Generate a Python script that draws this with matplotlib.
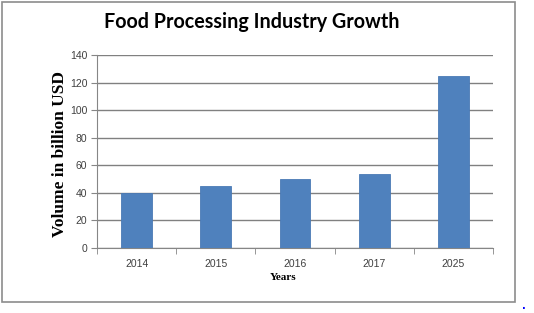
import matplotlib
matplotlib.use("Agg")
import matplotlib.pyplot as plt
from matplotlib.patches import Rectangle

years = ["2014", "2015", "2016", "2017", "2025"]
volume = [40, 45, 50, 54, 125]
yticks = [0, 20, 40, 60, 80, 100, 120, 140]

fig = plt.figure(figsize=(5.34, 3.13), dpi=100)
fig.patch.set_facecolor("white")
fig.add_artist(Rectangle((2/534, 1-302/313), 513/534, 300/313, transform=fig.transFigure,
                         fill=False, edgecolor="#8c8c8c", linewidth=1.2))

ax = fig.add_axes([97/534, 1-248/313, 396/534, 193/313])
x = range(len(years))
ax.bar(x, volume, width=0.39, color="#4f81bd", edgecolor="#4a7ab5", linewidth=0.6, zorder=3)
ax.set_xlim(-0.5, len(years)-0.5)
ax.set_ylim(0, 140)
ax.set_yticks(yticks)
ax.set_yticklabels([str(v) for v in yticks], fontsize=7.5, color="#404040", family="Liberation Sans")
ax.set_xticks(list(x))
ax.set_xticklabels(years, fontsize=7.5, color="#404040", family="Liberation Sans")
ax.tick_params(axis="x", length=0, pad=8)
ax.set_xticks([i - 0.5 for i in range(len(years)+1)], minor=True)
ax.tick_params(axis="x", which="minor", length=4, color="#868686", direction="out")
ax.tick_params(axis="y", length=4, color="#868686", pad=3)
ax.grid(axis="y", color="#808080", linewidth=1.0, zorder=0)
for s in ["top", "right"]:
    ax.spines[s].set_visible(False)
ax.spines["left"].set_color("#868686")
ax.spines["bottom"].set_color("#868686")

fig.text(252/534, 1-22/313, "Food Processing Industry Growth", ha="center", va="center",
         fontsize=14.2, fontweight="bold", family="Lato", color="black")
fig.text(60/534, 1-154/313, "Volume in billion USD", rotation=90, ha="center", va="center",
         fontsize=12.5, fontweight="bold", family="Liberation Serif")
fig.text(283/534, 1-278/313, "Years", ha="center", va="center", fontsize=8, fontweight="bold",
         family="Liberation Serif")
fig.text(524/534, 1-306/313, ".", ha="center", va="center", fontsize=7, color="blue", fontweight="bold")

fig.savefig("out.png", dpi=100)
